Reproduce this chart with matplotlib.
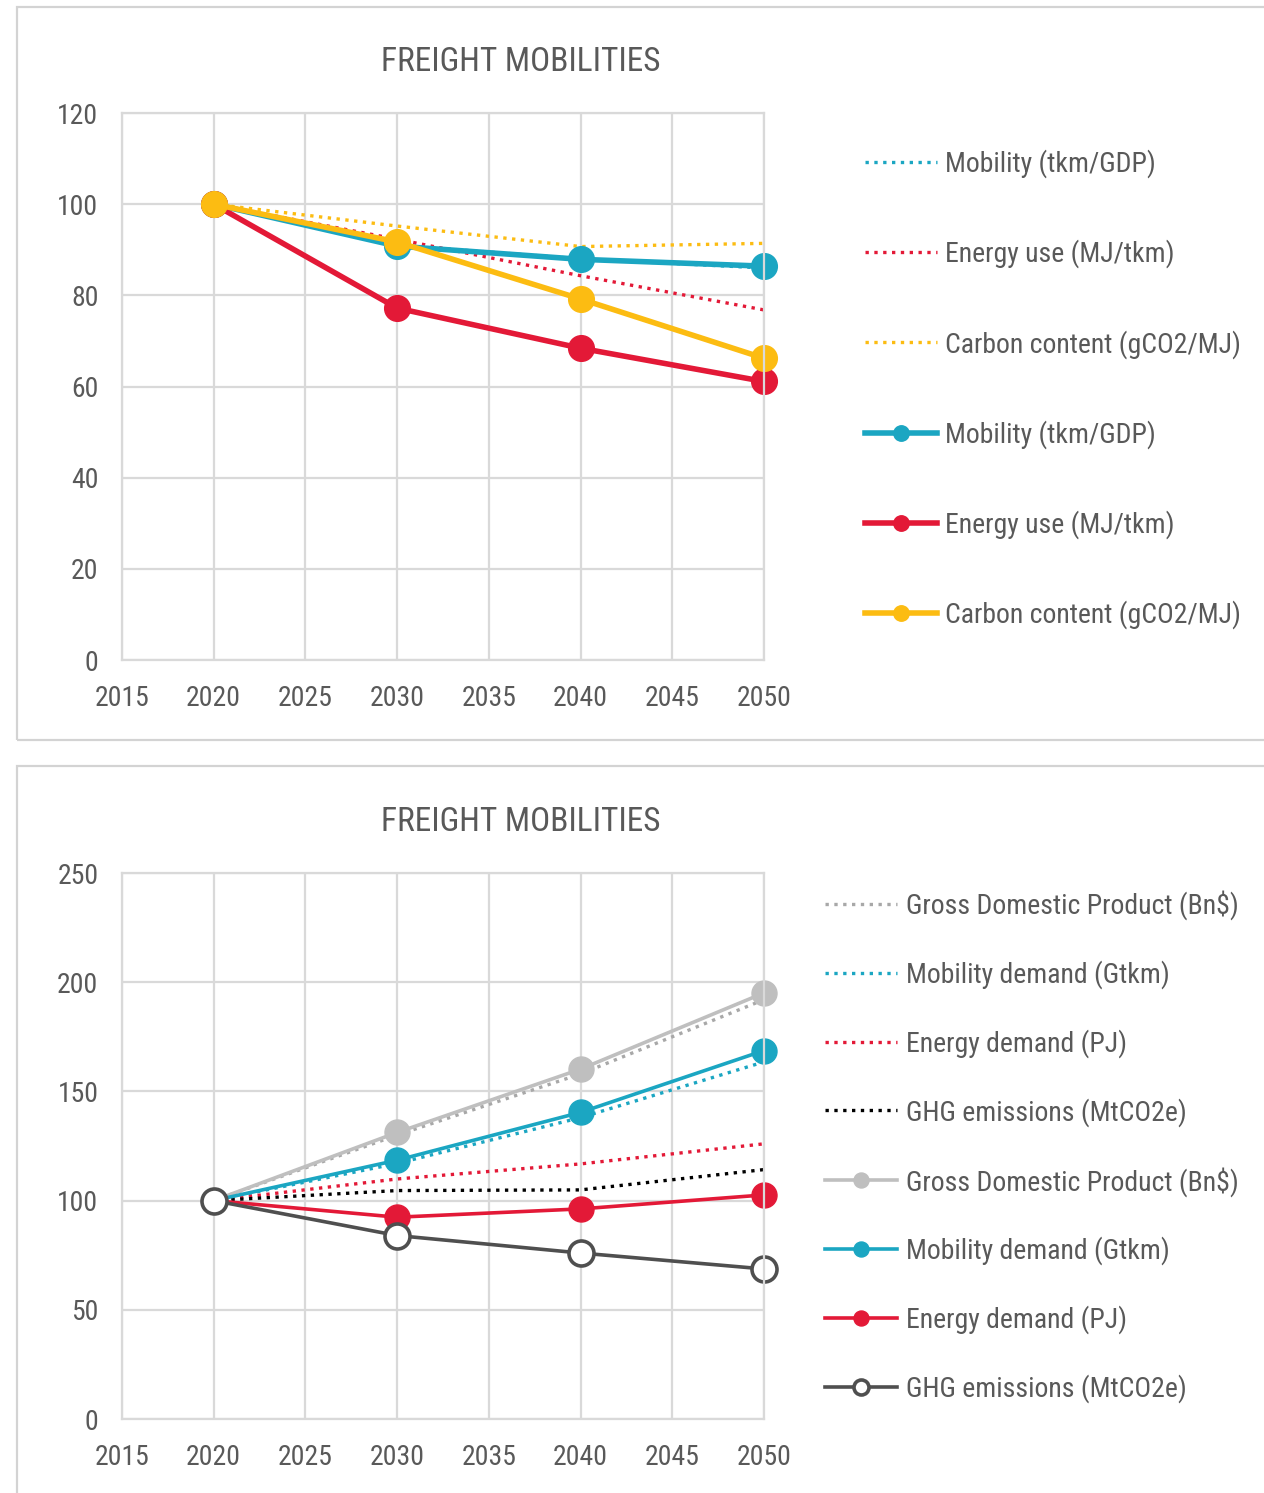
import matplotlib.pyplot as plt
from matplotlib.patches import Rectangle

plt.rcParams['font.family'] = ['Liberation Sans Narrow', 'Roboto Condensed', 'Roboto', 'DejaVu Sans']

# index values, 2020 = 100
years = [2020, 2030, 2040, 2050]

# top panel: intensities
mob_int_ref = [100, 91.0, 88.0, 86.0]
energy_int_ref = [100, 92.3, 84.3, 76.8]
carbon_ref = [100, 95.2, 90.7, 91.4]
mob_int = [100, 90.8, 87.9, 86.4]
energy_int = [100, 77.2, 68.4, 61.1]
carbon = [100, 91.7, 79.2, 66.2]
top_labels = ['Mobility (tkm/GDP)', 'Energy use (MJ/tkm)', 'Carbon content (gCO2/MJ)']

# bottom panel: totals
gdp_ref = [100, 130.0, 158.0, 192.0]
mob_dem_ref = [100, 117.0, 138.0, 163.5]
energy_dem_ref = [100, 109.9, 116.8, 126.0]
ghg_ref = [100, 104.6, 104.9, 114.2]
gdp = [100, 131.2, 160.2, 195.1]
mob_dem = [100, 118.5, 140.4, 168.7]
energy_dem = [100, 92.4, 96.2, 102.6]
ghg = [100, 84.0, 76.0, 68.7]
bottom_labels = ['Gross Domestic Product (Bn$)', 'Mobility demand (Gtkm)',
                 'Energy demand (PJ)', 'GHG emissions (MtCO2e)']

teal = '#1ba6c2'
red = '#e31937'
yellow = '#fcbc12'
lgray = '#bfbfbf'
dgray = '#4f4f4f'
txt = '#595959'
gridc = '#d9d9d9'

fig = plt.figure(figsize=(12.64, 14.93), dpi=100)

# panel frames
for y0, h in [(1 - 740 / 1493, 733 / 1493), (-0.01, 1 - 766 / 1493 + 0.01)]:
    fig.patches.append(Rectangle((17 / 1264, y0), 1.0, h, transform=fig.transFigure,
                                 fill=False, edgecolor='#d3d3d3', linewidth=1.6))

ax1 = fig.add_axes([122 / 1264, 1 - 660 / 1493, 642 / 1264, 547 / 1493])
ax2 = fig.add_axes([122 / 1264, 1 - 1419 / 1493, 642 / 1264, 546 / 1493])


def style(ax, ymax, step):
    ax.set_xlim(2015, 2050)
    ax.set_ylim(0, ymax)
    ax.set_xticks(range(2015, 2051, 5))
    ax.set_yticks(range(0, ymax + 1, step))
    ax.grid(True, color=gridc, linewidth=1.6)
    ax.set_axisbelow(True)
    for s in ax.spines.values():
        s.set_color(gridc)
        s.set_linewidth(1.6)
    ax.tick_params(axis='y', length=0, labelsize=20, labelcolor=txt, pad=17)
    ax.tick_params(axis='x', length=0, labelsize=20, labelcolor=txt, pad=18)
    t = ax.set_title('FREIGHT MOBILITIES', fontsize=24, color=txt, pad=30)
    t.set_x(0.6215)


style(ax1, 120, 20)
style(ax2, 250, 50)

dot = dict(linestyle=':', linewidth=2.4, clip_on=False)
solid = dict(marker='o', linewidth=4.0, markersize=18.5, clip_on=False)

ax1.plot(years, mob_int_ref, color=teal, label=top_labels[0], **dot)
ax1.plot(years, energy_int_ref, color=red, label=top_labels[1], **dot)
ax1.plot(years, carbon_ref, color=yellow, label=top_labels[2], **dot)
ax1.plot(years, mob_int, color=teal, label=top_labels[0], **solid)
ax1.plot(years, energy_int, color=red, label=top_labels[1], **solid)
ax1.plot(years, carbon, color=yellow, label=top_labels[2], **solid)

solid2 = dict(marker='o', linewidth=2.6, markersize=18, clip_on=False)
ax2.plot(years, gdp_ref, color='#a8a8a8', label=bottom_labels[0], **dot)
ax2.plot(years, mob_dem_ref, color=teal, label=bottom_labels[1], **dot)
ax2.plot(years, energy_dem_ref, color=red, label=bottom_labels[2], **dot)
ax2.plot(years, ghg_ref, color='black', label=bottom_labels[3], **dot)
ax2.plot(years, gdp, color=lgray, label=bottom_labels[0], **solid2)
ax2.plot(years, mob_dem, color=teal, label=bottom_labels[1], **solid2)
ax2.plot(years, energy_dem, color=red, label=bottom_labels[2], **solid2)
ax2.plot(years, ghg, color=dgray, label=bottom_labels[3], markerfacecolor='white',
         markeredgewidth=2.6, **solid2)

leg1 = ax1.legend(loc='upper left', bbox_to_anchor=(1.118, 0.979), frameon=False,
                  fontsize=20, labelcolor=txt, handlelength=2.6, handletextpad=0.3,
                  labelspacing=2.21, markerscale=0.6)
leg2 = ax2.legend(loc='upper left', bbox_to_anchor=(1.056, 1.014), frameon=False,
                  fontsize=20, labelcolor=txt, handlelength=2.6, handletextpad=0.3,
                  labelspacing=1.44, markerscale=0.6)

fig.savefig('out.png', dpi=100)
